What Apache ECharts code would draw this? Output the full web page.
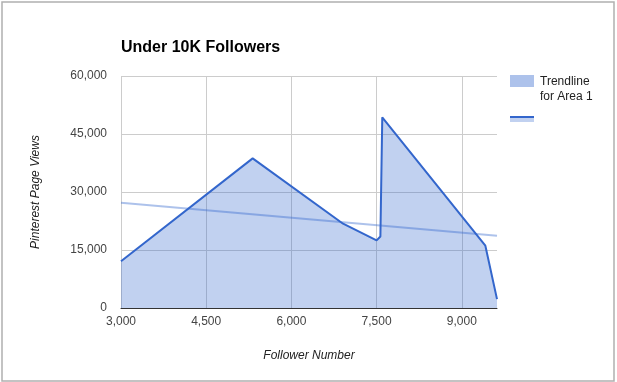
<!DOCTYPE html>
<html>
<head>
<meta charset="utf-8">
<script src="https://cdn.jsdelivr.net/npm/echarts@6/dist/echarts.min.js"></script>
<style>
html,body{margin:0;padding:0;background:#fff;}
#chart{width:617px;height:382px;}
</style>
</head>
<body>
<div id="chart"></div>
<script>
// Data
var followers = [3000, 5318, 6910, 7500, 7567, 7600, 9415, 9620];
var pageViews = [12100, 38700, 21800, 17500, 18500, 49300, 16100, 2300];
var trendX = [3000, 9620];
var trendY = [27200, 18700];
var xTicks = [3000, 4500, 6000, 7500, 9000];
var yTicks = [0, 15000, 30000, 45000, 60000];
var titleText = 'Under 10K Followers';
var xTitle = 'Follower Number';
var yTitle = 'Pinterest Page Views';
var legendText = 'Trendline\nfor Area 1';

var FONT = '"Liberation Sans", Arial, sans-serif';
var BLUE = '#3366cc';

function pairs(xs, ys) { return xs.map(function (x, i) { return [x, ys[i]]; }); }
function fmt(v) { return Number(v).toLocaleString('en-US'); }

var chart = echarts.init(document.getElementById('chart'), null, {renderer: 'canvas'});
var option = {
  backgroundColor: '#fff',
  animation: false,
  title: {
    text: titleText,
    left: 116,
    top: 35,
    textStyle: {fontFamily: FONT, fontSize: 16, fontWeight: 'bold', color: '#000'}
  },
  grid: {left: 121, right: 120, top: 76, bottom: 74, containLabel: false},
  xAxis: {
    type: 'value',
    min: xTicks[0],
    max: followers[followers.length - 1],
    interval: xTicks[1] - xTicks[0],
    name: xTitle,
    nameLocation: 'middle',
    nameGap: 42,
    nameTextStyle: {fontFamily: FONT, fontSize: 12, fontStyle: 'italic', color: '#222'},
    axisLine: {show: true, lineStyle: {color: '#333', width: 1}},
    axisTick: {show: false},
    axisLabel: {
      fontFamily: FONT, fontSize: 12, color: '#444', margin: 8,
      showMaxLabel: false,
      formatter: function (v) { return xTicks.indexOf(v) >= 0 ? fmt(v) : ''; }
    },
    splitLine: {show: true, showMaxLine: false, lineStyle: {color: '#ccc', width: 1}}
  },
  yAxis: {
    type: 'value',
    min: yTicks[0],
    max: yTicks[yTicks.length - 1],
    interval: yTicks[1] - yTicks[0],
    name: yTitle,
    nameLocation: 'middle',
    nameGap: 79,
    nameTextStyle: {fontFamily: FONT, fontSize: 12, fontStyle: 'italic', color: '#222'},
    axisLine: {show: false},
    axisTick: {show: false},
    axisLabel: {fontFamily: FONT, fontSize: 12, color: '#444', margin: 14, formatter: fmt},
    splitLine: {show: true, lineStyle: {color: '#ccc', width: 1}}
  },
  series: [
    {
      name: 'Area 1 fill',
      type: 'line',
      data: pairs(followers, pageViews),
      showSymbol: false,
      lineStyle: {width: 0, opacity: 0},
      areaStyle: {color: 'rgba(51,102,204,0.3)', opacity: 1},
      z: 2
    },
    {
      name: 'Trendline for Area 1',
      type: 'line',
      data: pairs(trendX, trendY),
      showSymbol: false,
      lineStyle: {color: 'rgba(51,102,204,0.4)', width: 2},
      z: 3
    },
    {
      name: 'Area 1',
      type: 'line',
      data: pairs(followers, pageViews),
      showSymbol: false,
      lineStyle: {color: BLUE, width: 2},
      z: 4
    }
  ],
  graphic: [
    {type: 'rect', shape: {x: 2, y: 2, width: 612, height: 379}, style: {fill: 'none', stroke: '#b0b0b0', lineWidth: 1.5}, silent: true},
    {type: 'rect', shape: {x: 510, y: 75, width: 24, height: 12}, style: {fill: 'rgba(51,102,204,0.4)'}, silent: true},
    {type: 'text', x: 540, y: 74, style: {text: legendText, font: '12px ' + FONT, fill: '#222', lineHeight: 15}, silent: true},
    {type: 'rect', shape: {x: 510, y: 118, width: 24, height: 4}, style: {fill: 'rgba(51,102,204,0.3)'}, silent: true},
    {type: 'rect', shape: {x: 510, y: 116, width: 24, height: 2}, style: {fill: BLUE}, silent: true}
  ]
};
chart.setOption(option);
</script>
</body>
</html>
